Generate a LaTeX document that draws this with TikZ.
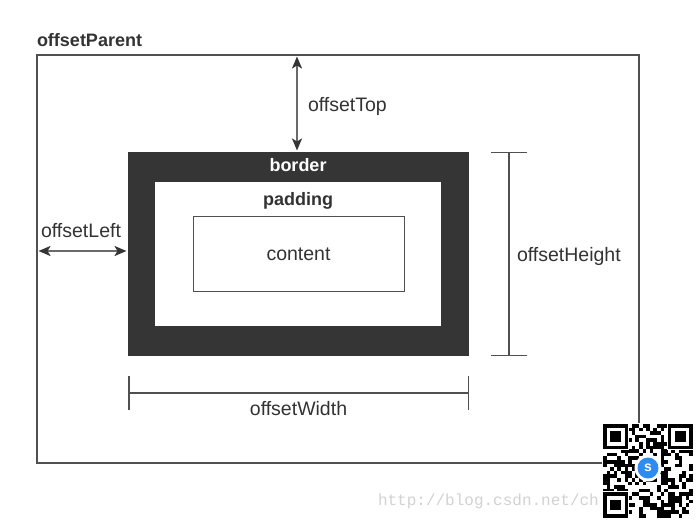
\documentclass[tikz,border=0pt]{standalone}
\usepackage{fontspec}
\setmainfont{Liberation Sans}
\newfontfamily\wmfont{Liberation Mono}
\usetikzlibrary{arrows.meta}
\definecolor{borderc}{HTML}{353535}
\definecolor{linec}{HTML}{505050}
\definecolor{arrowc}{HTML}{6A6A6A}
\definecolor{textc}{HTML}{333333}
\definecolor{wmc}{HTML}{D2D2D2}
\definecolor{qrblue}{HTML}{2D8CF0}
\begin{document}
\begin{tikzpicture}[x=1pt,y=-1pt,
  every node/.style={inner sep=0pt, outer sep=0pt},
  lbl/.style={font=\fontsize{19.5}{22}\selectfont, text=textc},
  blbl/.style={font=\fontsize{18}{20}\selectfont\bfseries, text=textc},
  parentbox/.style={draw=linec, line width=1.2pt, minimum width=602pt, minimum height=408pt},
  borderbox/.style={fill=borderc, minimum width=341pt, minimum height=204pt},
  paddingbox/.style={fill=white, minimum width=286pt, minimum height=144pt},
  contentbox/.style={draw=linec, line width=1pt, minimum width=211pt, minimum height=75pt},
  arr/.style={draw=arrowc, line width=2pt, {Stealth[length=12pt,width=10pt,inset=3pt,color=borderc]}-{Stealth[length=12pt,width=10pt,inset=3pt,color=borderc]}},
  dim/.style={draw=linec, line width=1.5pt},
  qrm/.style={fill=black}
]
\useasboundingbox (0,0) rectangle (700,521);
\fill[white] (0,0) rectangle (700,521);

% boxes
\node[parentbox] (parent) at (338,259) {};
\node[borderbox] (border) at (298.5,254) {};
\node[paddingbox] (padding) at (298,254) {};
\node[contentbox] (content) at (298.5,253.5) {};

% labels
\node[blbl, anchor=base west] (tparent) at (37,47) {offsetParent};
\node[blbl, text=white, anchor=base] (tborder) at (298,172) {border};
\node[blbl, anchor=base] (tpadding) at (298,205) {padding};
\node[lbl, anchor=base] (tcontent) at (298.5,260) {content};
\node[lbl, anchor=base west] (ttop) at (308,112) {offsetTop};
\node[lbl, anchor=base] (tleft) at (81,237) {offsetLeft};
\node[lbl, anchor=base west] (theight) at (517,261) {offsetHeight};
\node[lbl, anchor=base] (twidth) at (298.5,415) {offsetWidth};

% helper coordinates
\coordinate (topx) at (297,0);
\coordinate (lefty) at (0,251);
\coordinate (hx) at (509,0);
\coordinate (wy) at (0,393);

% offsetTop
\draw[arr, shorten <=1.5pt, shorten >=1.5pt] (parent.north -| topx) -- (border.north -| topx);
% offsetLeft
\draw[arr, shorten <=1.5pt, shorten >=1.5pt] (parent.west |- lefty) -- (border.west |- lefty);
% offsetHeight
\draw[dim, {Bar[width=36pt]}-{Bar[width=36pt]}] (border.north -| hx) -- (border.south -| hx);
% offsetWidth
\draw[dim, {Bar[width=34pt]}-{Bar[width=34pt]}] (border.west |- wy) -- (border.east |- wy);

% watermark
\node[font=\wmfont\fontsize{16}{18}\selectfont, text=wmc, anchor=base west] (wm) at (378,505) {http://blog.csdn.net/ch};

% QR code
\begin{scope}[shift={(603,424)}]
  \fill[white] (-1,-1) rectangle (91,97);
  \pgfmathsetseed{4711}
  \foreach \i in {0,...,24}{
    \foreach \j in {0,...,25}{
      \pgfmathrandominteger{\r}{0}{1}
      \ifnum\r=1 \fill[qrm] (\i*3.6,\j*3.6) rectangle ++(3.6,3.6);\fi
    }
  }
  \foreach \ox/\oy in {0/0, 64.8/0, 0/68.4}{
    \fill[white] (\ox-1,\oy-1) rectangle ++(27.2,27.2);
    \fill[black] (\ox,\oy) rectangle ++(25.2,25.2);
    \fill[white] (\ox+3.6,\oy+3.6) rectangle ++(18,18);
    \fill[black] (\ox+7.2,\oy+7.2) rectangle ++(10.8,10.8);
  }
  \fill[white] (45,44) circle (13.5);
  \fill[qrblue] (45,44) circle (10.5);
  \node[font=\fontsize{14}{14}\selectfont\bfseries, text=white] (qrs) at (45,44) {s};
\end{scope}
\end{tikzpicture}
\end{document}
